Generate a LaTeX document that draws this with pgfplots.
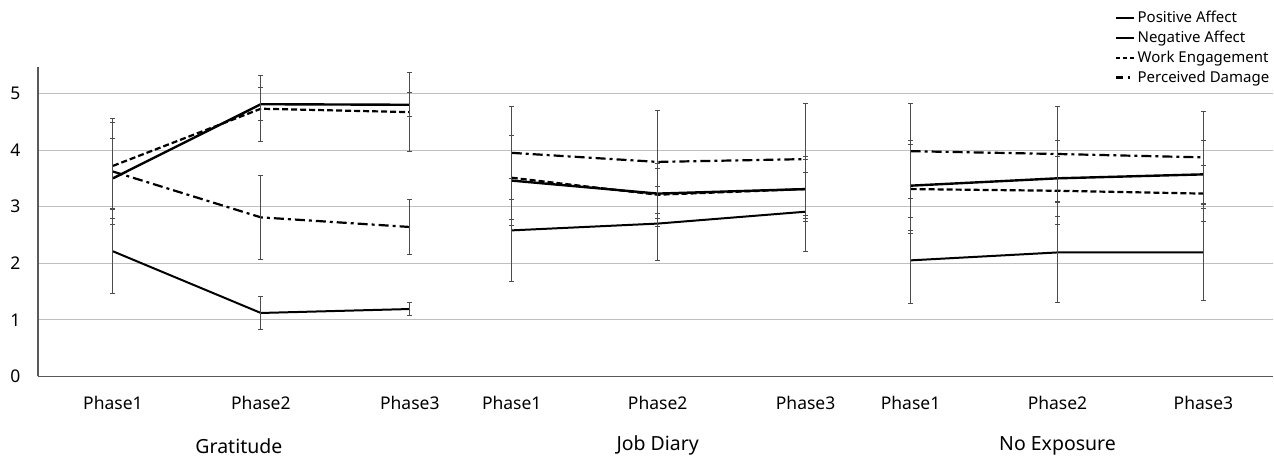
\documentclass[border=0pt]{standalone}
\usepackage{pgfplots}
\usepackage{pgfplotstable}
\pgfplotsset{compat=1.18}
\usepackage{fontspec}
\setmainfont{Noto Sans}

\pgfplotstableread{
x y e
113 3.50 0.71
261 4.81 0.29
410 4.80 0.21
475 nan 0
512 3.46 0.80
658 3.23 0.44
806 3.31 0.58
875 nan 0
911 3.37 0.80
1058 3.50 0.67
1204 3.57 0.60
}\tblPA

\pgfplotstableread{
x y e
113 2.21 0.74
261 1.12 0.29
410 1.19 0.12
475 nan 0
512 2.58 0.91
658 2.70 0.65
806 2.91 0.70
875 nan 0
911 2.05 0.76
1058 2.19 0.88
1204 2.19 0.85
}\tblNA

\pgfplotstableread{
x y e
113 3.72 0.76
261 4.73 0.58
410 4.67 0.70
475 nan 0
512 3.51 0.74
658 3.21 0.56
806 3.31 0.52
875 nan 0
911 3.31 0.78
1058 3.28 0.60
1204 3.23 0.50
}\tblWE

\pgfplotstableread{
x y e
113 3.62 0.94
261 2.81 0.74
410 2.64 0.48
475 nan 0
512 3.95 0.82
658 3.79 0.91
806 3.84 0.99
875 nan 0
911 3.98 0.84
1058 3.93 0.84
1204 3.87 0.82
}\tblPD

\pgfplotsset{
  myerr/.style={
    error bars/.cd,
      y dir=both, y explicit,
      error mark=-,
      error bar style={black!70, line width=0.9bp, solid},
      error mark options={rotate=90, black!70, line width=0.9bp, mark size=2.5bp, solid},
  },
}

\begin{document}
\begin{tikzpicture}
\begin{axis}[
  scale only axis,
  width=1236bp, height=309.5bp,
  xmin=38, xmax=1274, ymin=0, ymax=5.468,
  axis x line=bottom, axis y line=left,
  axis line style={-, draw=black!65, line width=1.2bp},
  ytick={0,1,2,3,4,5},
  ymajorgrids,
  grid style={black!25, line width=1bp},
  xtick={113,261,410,512,658,806,911,1058,1204},
  xticklabels={Phase1,Phase2,Phase3,Phase1,Phase2,Phase3,Phase1,Phase2,Phase3},
  major tick length=0pt,
  tick label style={font=\fontsize{17.5bp}{20bp}\selectfont},
  /pgf/number format/assume math mode=true,
  yticklabel style={xshift=-14bp},
  xticklabel style={yshift=-16bp},
  clip=false,
  unbounded coords=jump,
  legend style={at={(axis cs:1272,6.49)}, anchor=north east, draw=none, fill=none,
    font=\fontsize{15bp}{18bp}\selectfont, row sep=3bp, inner sep=0pt,
    cells={anchor=west}},
  legend image code/.code={\draw[#1] (0bp,0bp) -- (18bp,0bp);},
]
\path (axis cs:0,6.652) rectangle (axis cs:1274,-1.405);

\addplot[black, line width=2.4bp, mark=none, myerr] table[x=x, y=y, y error=e] {\tblPA};
\addlegendentry{Positive Affect}
\addplot[black, line width=2bp, mark=none, myerr] table[x=x, y=y, y error=e] {\tblNA};
\addlegendentry{Negative Affect}
\addplot[black, line width=2.2bp, dash pattern=on 6bp off 3bp, mark=none,
  legend image post style={dash pattern=on 4bp off 3bp}, myerr] table[x=x, y=y, y error=e] {\tblWE};
\addlegendentry{Work Engagement}
\addplot[black, line width=2.2bp, dash pattern=on 10bp off 4bp on 3bp off 4bp, mark=none,
  legend image post style={dash pattern=on 7bp off 5bp on 2bp off 5bp}, myerr] table[x=x, y=y, y error=e] {\tblPD};
\addlegendentry{Perceived Damage}

\node[font=\fontsize{19.5bp}{22bp}\selectfont] at (axis cs:239,-1.23) {Gratitude};
\node[font=\fontsize{19.5bp}{22bp}\selectfont] at (axis cs:658,-1.23) {Job Diary};
\node[font=\fontsize{19.5bp}{22bp}\selectfont] at (axis cs:1058,-1.23) {No Exposure};
\end{axis}
\end{tikzpicture}
\end{document}
